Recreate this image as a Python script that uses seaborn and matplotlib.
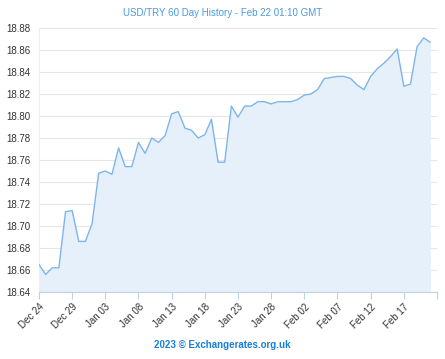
import pandas as pd
import seaborn as sns
import matplotlib.pyplot as plt
import matplotlib.dates as mdates

# USD/TRY daily rate, Dec 24 -> Feb 21
dates = pd.date_range('2022-12-24', '2023-02-21', freq='D')
rates = [
    18.665, 18.656, 18.662, 18.662, 18.713, 18.714, 18.686, 18.686, 18.702, 18.748,
    18.750, 18.747, 18.771, 18.754, 18.754, 18.776, 18.766, 18.780, 18.776, 18.782,
    18.802, 18.804, 18.789, 18.787, 18.780, 18.783, 18.797, 18.758, 18.758, 18.809,
    18.799, 18.809, 18.809, 18.813, 18.813, 18.811, 18.813, 18.813, 18.813, 18.815,
    18.819, 18.820, 18.824, 18.834, 18.835, 18.836, 18.836, 18.834, 18.828, 18.824,
    18.836, 18.843, 18.848, 18.854, 18.861, 18.827, 18.829, 18.863, 18.871, 18.867,
]
y_ticks = [18.64, 18.66, 18.68, 18.70, 18.72, 18.74, 18.76, 18.78, 18.80, 18.82, 18.84, 18.86, 18.88]
x_ticks = pd.date_range('2022-12-24', '2023-02-22', freq='5D')

df = pd.DataFrame({'date': dates, 'rate': rates})

sns.set_style('white')
plt.rcParams['font.family'] = ['Liberation Sans', 'DejaVu Sans']

fig = plt.figure(figsize=(4.45, 3.59), dpi=100)
ax = fig.add_axes([0.0876, 0.1866, 0.8944, 0.7354])

line_col = '#7cb5ec'
ax.fill_between(df['date'], df['rate'], 18.64, color='#e6f0fa', lw=0, zorder=1)
sns.lineplot(data=df, x='date', y='rate', ax=ax, color=line_col, lw=1.0, zorder=3)

ax.set_xlim(x_ticks[0], x_ticks[-1])
ax.set_ylim(18.64, 18.88)
ax.set_yticks(y_ticks)
ax.set_yticklabels([f'{v:.2f}' for v in y_ticks], fontsize=7, color='#333333')
ax.set_xticks(x_ticks)
xlabels = [d.strftime('%b %d') for d in x_ticks]
xlabels[-1] = ''
ax.set_xticklabels(xlabels, rotation=45, ha='right', rotation_mode='anchor',
                   fontsize=7, color='#333333')
ax.set_xlabel('')
ax.set_ylabel('')

ax.grid(axis='y', color='#e6e6e6', lw=0.8, zorder=0)
ax.grid(axis='x', visible=False)
for s in ['top', 'right']:
    ax.spines[s].set_visible(False)
ax.spines['left'].set_color('#eeeeee')
ax.spines['left'].set_linewidth(0.8)
ax.spines['bottom'].set_color('#c0d0e0')
ax.spines['bottom'].set_linewidth(0.8)
ax.tick_params(axis='x', length=5, width=0.8, color='#c0d0e0', pad=2, bottom=True)
ax.tick_params(axis='y', length=0, pad=6)

fig.text(0.5, 0.965, 'USD/TRY 60 Day History - Feb 22 01:10 GMT', ha='center', va='center',
         fontsize=7, color='#4a9ae0')
fig.text(0.5, 0.038, '2023 © Exchangerates.org.uk', ha='center', va='center',
         fontsize=7, color='#1a7fd4', fontweight='bold')

fig.savefig('out.png', dpi=100)
